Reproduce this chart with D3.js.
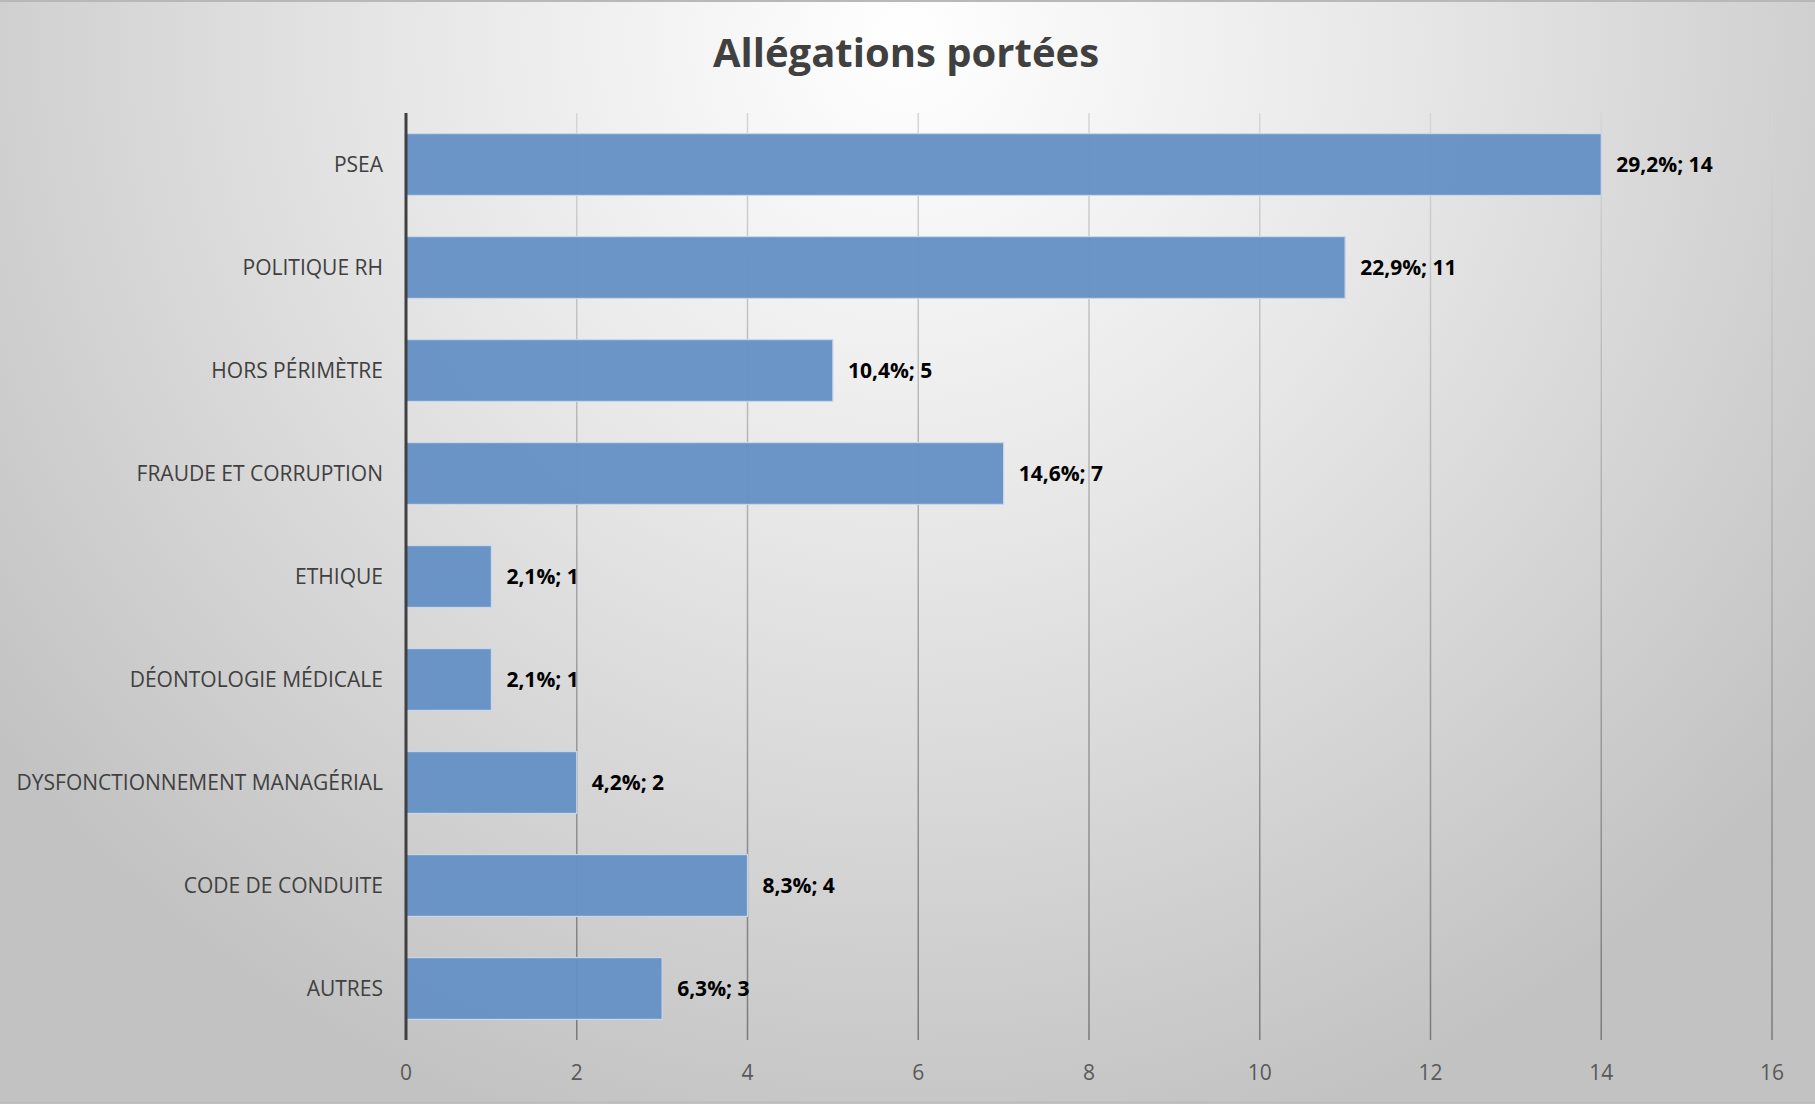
<!DOCTYPE html>
<html>
<head>
<meta charset="utf-8">
<script src="https://cdn.jsdelivr.net/npm/d3@7"></script>
<style>
  html, body { margin: 0; padding: 0; background: #fff; }
  svg { display: block; }
</style>
</head>
<body>
<div id="chart"></div>
<script>
// chart data
const categories = ['PSEA', 'POLITIQUE RH', 'HORS PÉRIMÈTRE', 'FRAUDE ET CORRUPTION', 'ETHIQUE',
  'DÉONTOLOGIE MÉDICALE', 'DYSFONCTIONNEMENT MANAGÉRIAL', 'CODE DE CONDUITE', 'AUTRES'];
const counts = [14, 11, 5, 7, 1, 1, 2, 4, 3];
const percents = ['29,2%', '22,9%', '10,4%', '14,6%', '2,1%', '2,1%', '4,2%', '8,3%', '6,3%'];
const xTicks = [0, 2, 4, 6, 8, 10, 12, 14, 16];
const title = 'Allégations portées';

const width = 1815, height = 1104;
const margin = { top: 113, right: 43, bottom: 64, left: 406 };
const font = 'Open Sans, Noto Sans, sans-serif';

const svg = d3.select('#chart')
  .append('svg')
  .attr('width', width)
  .attr('height', height);

const defs = svg.append('defs');

const bg = defs.append('radialGradient')
  .attr('id', 'bg')
  .attr('gradientUnits', 'userSpaceOnUse')
  .attr('cx', 907).attr('cy', 40)
  .attr('r', 1150);
bg.append('stop').attr('offset', '0%').attr('stop-color', '#ffffff');
bg.append('stop').attr('offset', '45%').attr('stop-color', '#e6e6e6');
bg.append('stop').attr('offset', '100%').attr('stop-color', '#c2c2c2');

const gridGrad = defs.append('linearGradient')
  .attr('id', 'grid')
  .attr('gradientUnits', 'userSpaceOnUse')
  .attr('x1', 0).attr('y1', margin.top)
  .attr('x2', 0).attr('y2', height - margin.bottom);
gridGrad.append('stop').attr('offset', '0%').attr('stop-color', '#d6d6d6');
gridGrad.append('stop').attr('offset', '100%').attr('stop-color', '#7a7a7a');

svg.append('rect')
  .attr('width', width)
  .attr('height', height)
  .attr('fill', 'url(#bg)');

// thin frame lines top and bottom
svg.append('line')
  .attr('x1', 0).attr('x2', width).attr('y1', 1).attr('y2', 1)
  .attr('stroke', '#b8b8b8').attr('stroke-width', 2);
svg.append('line')
  .attr('x1', 0).attr('x2', width).attr('y1', height - 1.5).attr('y2', height - 1.5)
  .attr('stroke', '#bdbdbd').attr('stroke-width', 2);

const x = d3.scaleLinear()
  .domain([0, 16])
  .range([margin.left, width - margin.right]);

const y = d3.scaleBand()
  .domain(categories)
  .range([margin.top, height - margin.bottom])
  .paddingInner(0.4)
  .paddingOuter(0.2);

// gridlines
svg.append('g')
  .selectAll('line')
  .data(xTicks.filter(d => d > 0))
  .enter()
  .append('line')
  .attr('x1', d => x(d)).attr('x2', d => x(d))
  .attr('y1', margin.top).attr('y2', height - margin.bottom)
  .attr('stroke', 'url(#grid)')
  .attr('stroke-width', 1.5);

// bars
svg.append('g')
  .selectAll('rect')
  .data(counts)
  .enter()
  .append('rect')
  .attr('x', x(0))
  .attr('y', (d, i) => y(categories[i]))
  .attr('width', d => x(d) - x(0))
  .attr('height', y.bandwidth())
  .attr('fill', '#6792c5')
  .attr('fill-opacity', 0.97)
  .attr('stroke', '#c8d6ea')
  .attr('stroke-width', 1.2);

// value labels
svg.append('g')
  .selectAll('text')
  .data(counts)
  .enter()
  .append('text')
  .attr('x', d => x(d) + 15)
  .attr('y', (d, i) => y(categories[i]) + y.bandwidth() / 2)
  .attr('dy', '0.36em')
  .attr('font-family', font)
  .attr('font-size', 21)
  .attr('font-weight', 700)
  .attr('fill', '#000')
  .text((d, i) => percents[i] + '; ' + d);

// category labels
svg.append('g')
  .selectAll('text')
  .data(categories)
  .enter()
  .append('text')
  .attr('x', margin.left - 23)
  .attr('y', d => y(d) + y.bandwidth() / 2)
  .attr('dy', '0.36em')
  .attr('text-anchor', 'end')
  .attr('font-family', font)
  .attr('font-size', 21)
  .attr('fill', '#404040')
  .text(d => d);

// x axis tick labels
svg.append('g')
  .selectAll('text')
  .data(xTicks)
  .enter()
  .append('text')
  .attr('x', d => x(d))
  .attr('y', height - margin.bottom + 32)
  .attr('dy', '0.36em')
  .attr('text-anchor', 'middle')
  .attr('font-family', font)
  .attr('font-size', 21)
  .attr('fill', '#595959')
  .text(d => d);

// vertical axis line
svg.append('line')
  .attr('x1', x(0)).attr('x2', x(0))
  .attr('y1', margin.top).attr('y2', height - margin.bottom)
  .attr('stroke', '#404040')
  .attr('stroke-width', 3);

svg.append('text')
  .attr('x', 906)
  .attr('y', 67)
  .attr('text-anchor', 'middle')
  .attr('font-family', font)
  .attr('font-size', 40)
  .attr('font-weight', 700)
  .attr('fill', '#404040')
  .text(title);
</script>
</body>
</html>
